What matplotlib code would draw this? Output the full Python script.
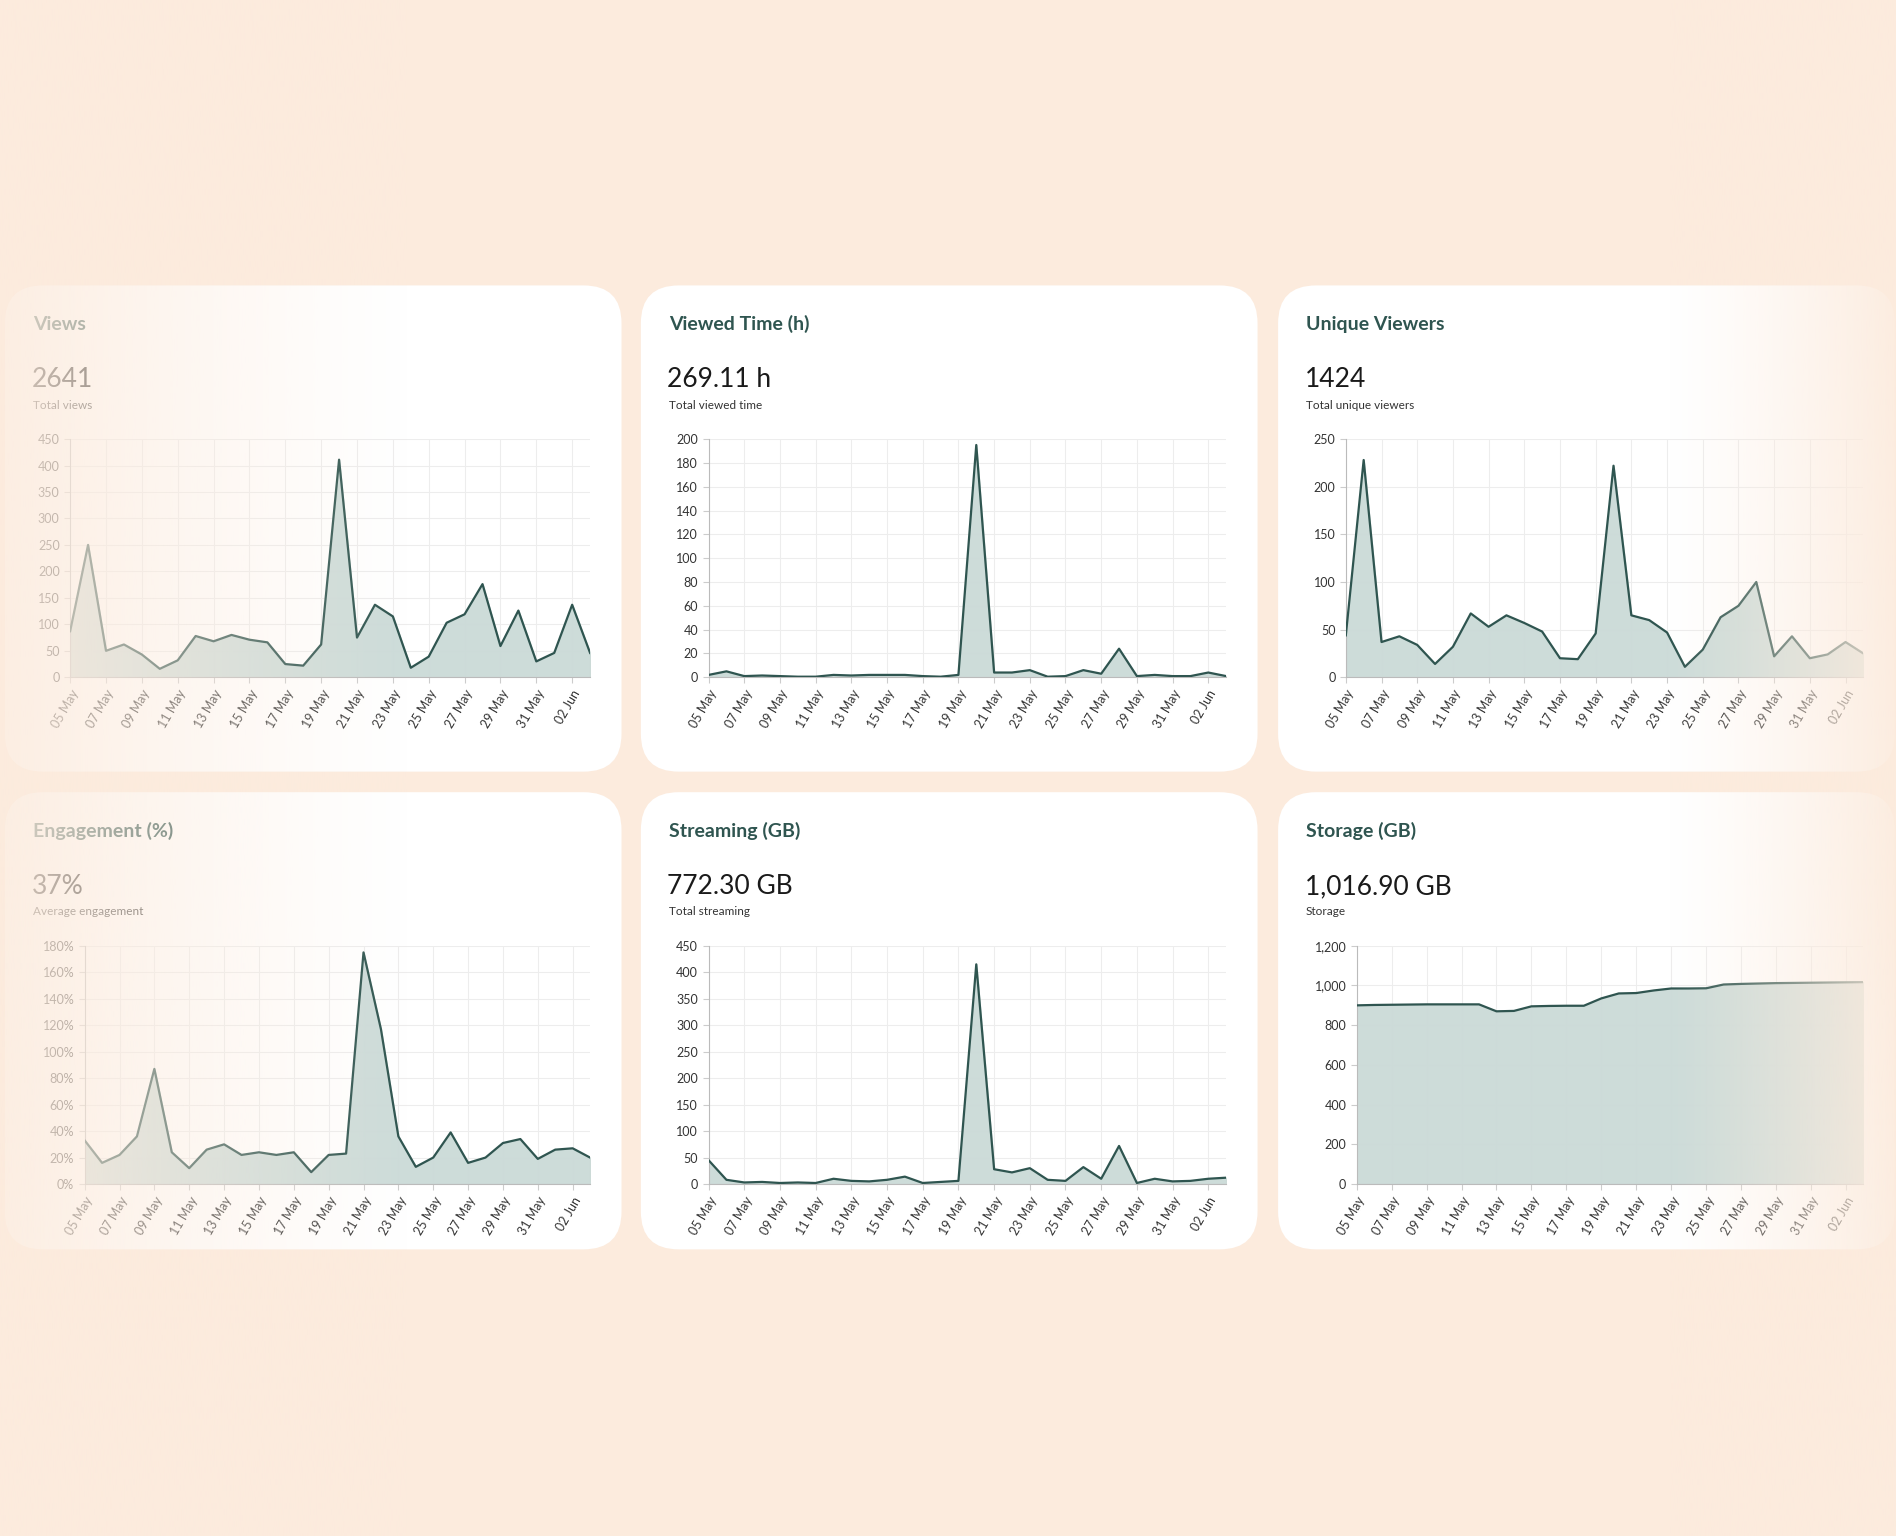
import matplotlib
matplotlib.use("Agg")
import matplotlib.pyplot as plt
import numpy as np
from matplotlib.patches import FancyBboxPatch
from matplotlib.ticker import FuncFormatter

plt.rcParams["font.family"] = "Lato"

dates = ["05 May","06 May","07 May","08 May","09 May","10 May","11 May","12 May","13 May","14 May",
         "15 May","16 May","17 May","18 May","19 May","20 May","21 May","22 May","23 May","24 May",
         "25 May","26 May","27 May","28 May","29 May","30 May","31 May","01 Jun","02 Jun","03 Jun"]
views = [87,250,50,62,43,16,32,78,68,80,71,66,25,22,62,411,75,137,115,18,39,103,119,176,59,126,30,46,137,46]
viewed_time = [2,5,1,1.5,1,0.5,0.5,2,1.5,2,2,2,1,0.5,2,195,4,4,6,0.5,1,6,3,24,1,2,1,1,4,1]
unique_viewers = [44,228,37,43,34,14,32,67,53,65,57,48,20,19,46,222,65,60,47,11,29,63,75,100,22,43,20,24,37,25]
engagement = [33,16,22,36,87,24,12,26,30,22,24,22,24,9,22,23,175,117,36,13,20,39,16,20,31,34,19,26,27,20]
streaming = [45,8,3,4,2,3,2,10,6,5,8,14,2,4,6,415,28,22,30,8,6,32,10,72,2,10,5,6,10,12]
storage = [900,902,903,904,905,905,905,905,870,872,895,897,898,898,935,960,962,975,985,985,986,1005,1008,1010,1012,1013,1014,1015,1016,1017]

panels = [
    ("Views", "2641", "Total views", views, 450, 50, lambda v: f"{int(v)}", 4, 236, 54, 402),
    ("Viewed Time (h)", "269.11 h", "Total viewed time", viewed_time, 200, 20, lambda v: f"{int(v)}", 530, 236, 56, 402),
    ("Unique Viewers", "1424", "Total unique viewers", unique_viewers, 250, 50, lambda v: f"{int(v)}", 1057, 236, 56, 402),
    ("Engagement (%)", "37%", "Average engagement", engagement, 180, 20, lambda v: f"{int(v)}%", 4, 655, 66, 378),
    ("Streaming (GB)", "772.30 GB", "Total streaming", streaming, 450, 50, lambda v: f"{int(v)}", 530, 655, 56, 378),
    ("Storage (GB)", "1,016.90 GB", "Storage", storage, 1200, 200, lambda v: f"{int(v):,}", 1057, 655, 65, 378),
]

W, H = 1568, 1270
BG = "#FCEBDD"
DARK = "#2F5550"
fig = plt.figure(figsize=(18.96, 15.36), dpi=100, facecolor=BG)

def fx(x): return x / W
def fy(y): return 1 - y / H

for title, big, sub, data, ymax, step, fmt, px, py, off, ph in panels:
    pw = 510
    p = FancyBboxPatch((fx(px), fy(py + ph)), pw / W, ph / H,
                       boxstyle="round,pad=0,rounding_size=0.02",
                       transform=fig.transFigure, facecolor="white",
                       edgecolor="none", zorder=-5, mutation_aspect=W / H)
    fig.add_artist(p)
    fig.text(fx(px + 23), fy(py + 32), title, fontsize=14, fontweight="bold", color=DARK, va="center")
    fig.text(fx(px + 22), fy(py + 78), big, fontsize=19, color="#1a1a1a", va="center")
    fig.text(fx(px + 23), fy(py + 99), sub, fontsize=8.5, color="#333333", va="center")
    top = py + 127
    ax = fig.add_axes([fx(px + off), fy(top + 197), (484 - off) / W, 197 / H], zorder=1)
    ax.patch.set_alpha(0)
    x = np.arange(len(data))
    ax.fill_between(x, data, 0, color="#CBDAD7", alpha=0.95, zorder=2)
    ax.plot(x, data, color=DARK, lw=1.6, zorder=3)
    ax.set_xlim(0, len(data) - 1)
    ax.set_ylim(0, ymax)
    ax.set_yticks(np.arange(0, ymax + 1, step))
    ax.yaxis.set_major_formatter(FuncFormatter(lambda v, p, f=fmt: f(v)))
    ax.set_xticks(x[::2])
    ax.set_xticklabels(dates[::2], rotation=60, ha="right", rotation_mode="anchor")
    ax.tick_params(labelsize=9, colors="#333333", length=4, color="#cccccc")
    ax.grid(True, color="#EDEDED", lw=0.8, zorder=0)
    ax.set_axisbelow(True)
    for s in ["top", "right"]:
        ax.spines[s].set_visible(False)
    for s in ["left", "bottom"]:
        ax.spines[s].set_color("#bbbbbb")

# edge fades
ov = fig.add_axes([0, 0, 1, 1], zorder=10)
ov.axis("off")
xs = np.linspace(0, W, 800)
alpha = np.zeros_like(xs)
left = xs < 340
alpha[left] = 0.85 * (1 - xs[left] / 340) ** 1.2
right = xs > 1380
alpha[right] = 0.9 * ((xs[right] - 1380) / 188) ** 1.2
rgb = matplotlib.colors.to_rgb(BG)
img = np.zeros((1, len(xs), 4))
img[..., 0], img[..., 1], img[..., 2] = rgb
img[0, :, 3] = alpha
ov.imshow(img, extent=[0, 1, 0, 1], aspect="auto")
ov.set_xlim(0, 1); ov.set_ylim(0, 1)

fig.savefig("out.png", dpi=100, facecolor=BG)
